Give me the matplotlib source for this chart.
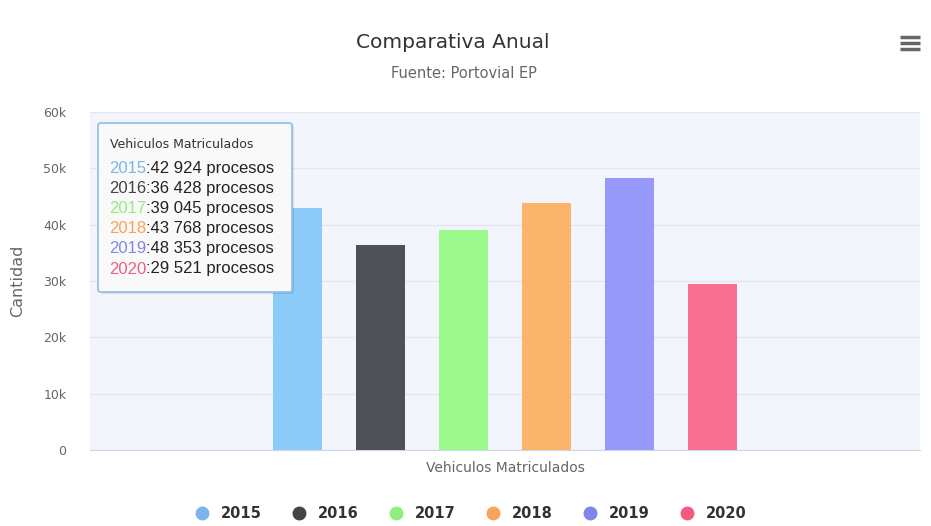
import matplotlib
matplotlib.use("Agg")
import matplotlib.pyplot as plt
from matplotlib.lines import Line2D
from matplotlib.patches import FancyBboxPatch

# data
years = ["2015", "2016", "2017", "2018", "2019", "2020"]
values = [42924, 36428, 39045, 43768, 48353, 29521]
value_labels = ["42 924", "36 428", "39 045", "43 768", "48 353", "29 521"]
category = "Vehiculos Matriculados"
y_ticks = [0, 10000, 20000, 30000, 40000, 50000, 60000]
y_tick_labels = ["0", "10k", "20k", "30k", "40k", "50k", "60k"]

legend_colors = ["#7cb5ec", "#434348", "#90ed7d", "#f7a35c", "#8085e9", "#f15c80"]
bar_colors = ["#8ccafa", "#505058", "#9cfa8c", "#fcb46c", "#9698fa", "#f87091"]

W, H = 931, 526
fig = plt.figure(figsize=(W / 100, H / 100), dpi=100)
fig.patch.set_facecolor("white")


def fx(px):
    return px / W


def fy(py):
    return 1 - py / H


ax = fig.add_axes([fx(90), fy(450), fx(920) - fx(90), fy(112) - fy(450)])
ax.set_facecolor("#f2f5fc")

n = len(years)
group_pad = 0.2
slot = (1 - 2 * group_pad) / n
bar_w = slot * 0.6
xs = [-0.5 + group_pad + slot * (i + 0.5) for i in range(n)]
ax.bar(xs, values, width=bar_w, color=bar_colors, zorder=3)

ax.set_xlim(-0.5, 0.5)
ax.set_ylim(0, 60000)
ax.set_yticks(y_ticks)
ax.set_yticklabels(y_tick_labels, color="#666666", fontsize=9)
ax.set_xticks([])
ax.grid(axis="y", color="#e3e6ec", linewidth=1, zorder=0)
for s in ["top", "right", "left"]:
    ax.spines[s].set_visible(False)
ax.spines["bottom"].set_color("#ccd6eb")
ax.tick_params(axis="y", length=0, pad=17)

fig.text(fx(18), fy(281), "Cantidad", rotation=90, ha="center", va="center",
         color="#666666", fontsize=11.5)
fig.text(fx(505), fy(468), category, ha="center", va="center",
         color="#666666", fontsize=10)

fig.text(fx(453), fy(42), "Comparativa Anual", ha="center", va="center",
         color="#333333", fontsize=14.5)
fig.text(fx(464), fy(73), "Fuente: Portovial EP", ha="center", va="center",
         color="#666666", fontsize=10.5)

# menu icon
for yy in [37, 43, 49]:
    fig.add_artist(Line2D([fx(900), fx(920)], [fy(yy), fy(yy)], color="#666666",
                          linewidth=2.5, solid_capstyle="butt"))

# tooltip
shadow = FancyBboxPatch((fx(100), fy(294)), fx(292) - fx(98), fy(123) - fy(292),
                        boxstyle="round,pad=0,rounding_size=0.004",
                        transform=fig.transFigure, facecolor="#00000018",
                        edgecolor="none", zorder=9)
fig.add_artist(shadow)
box = FancyBboxPatch((fx(98), fy(292)), fx(292) - fx(98), fy(123) - fy(292),
                     boxstyle="round,pad=0,rounding_size=0.004",
                     transform=fig.transFigure, facecolor="#f9f9f9",
                     edgecolor="#8fbde8", linewidth=1.2, zorder=10)
fig.add_artist(box)
fig.text(fx(110), fy(145), category, ha="left", va="center", color="#333333",
         fontsize=9, zorder=11)
for i, (yr, val) in enumerate(zip(years, value_labels)):
    yy = fy(168 + 20.2 * i)
    t = fig.text(fx(109), yy, yr, ha="left", va="center", color=legend_colors[i],
                 fontsize=12, family="Liberation Sans", zorder=11)
    fig.add_artist(plt.Annotation(":" + val + " procesos", xy=(1, 0.5), xycoords=t,
                                  ha="left", va="center", color="#222222", fontsize=12,
                                  family="Liberation Sans", zorder=11))

# legend
handles = [Line2D([], [], marker="o", linestyle="none", markersize=9,
                  markerfacecolor=c, markeredgecolor=c) for c in legend_colors]
fig.legend(handles, years, loc="center", bbox_to_anchor=(fx(467), fy(514)),
           ncol=n, frameon=False, handletextpad=0.3, columnspacing=1.55,
           prop={"family": "DejaVu Sans", "weight": "bold", "size": 10.5},
           labelcolor="#333333")

fig.savefig("out.png", dpi=100)
